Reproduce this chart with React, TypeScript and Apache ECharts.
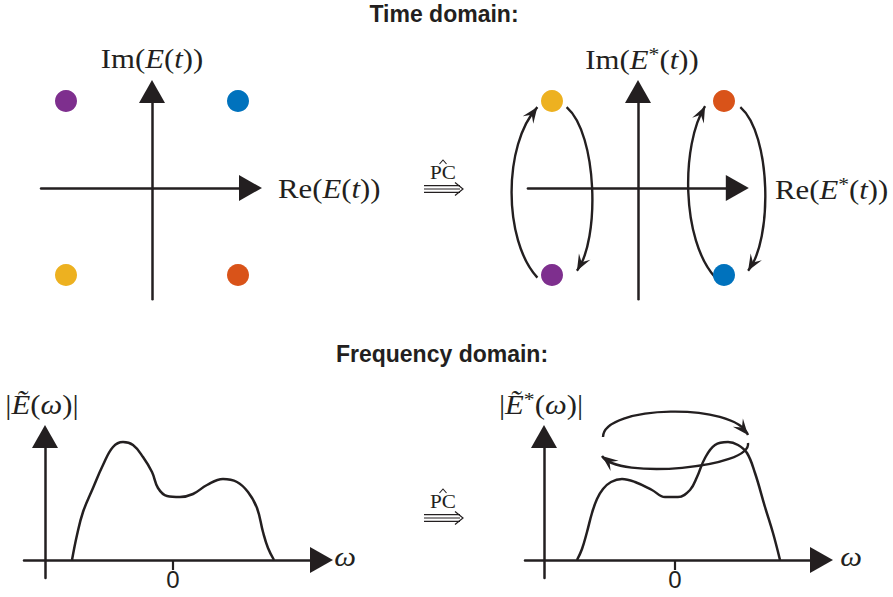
import React, { useEffect, useRef } from 'react';
import * as echarts from 'echarts';

// ---------------- data ----------------
// time-domain constellation points (same order: purple, blue, yellow, orange)
const dotNames = ['purple', 'blue', 'yellow', 'orange'];
const reE = [-1, 1, -1, 1];
const imE = [1, 1, -1, -1];
const reEConj = [-1, 1, -1, 1];
const imEConj = [-1, -1, 1, 1];

// frequency-domain spectra |E(w)| and |E*(w)|
const omegaE = [-1.01, -0.96, -0.9, -0.8, -0.7, -0.6, -0.5, -0.4, -0.3, -0.21, -0.15, -0.06, 0.07, 0.2, 0.34, 0.5, 0.64, 0.75, 0.84, 0.9, 0.95, 1.01];
const magE = [0, 0.25, 0.48, 0.72, 0.95, 1.13, 1.18, 1.15, 1.03, 0.88, 0.72, 0.64, 0.63, 0.66, 0.75, 0.81, 0.78, 0.68, 0.52, 0.28, 0.12, 0];
const omegaEConj = [-0.98, -0.93, -0.88, -0.83, -0.78, -0.72, -0.64, -0.53, -0.4, -0.23, -0.1, 0.03, 0.15, 0.22, 0.3, 0.4, 0.53, 0.63, 0.72, 0.8, 0.9, 0.98, 1.05];
const magEConj = [0, 0.11, 0.28, 0.47, 0.61, 0.71, 0.78, 0.81, 0.78, 0.7, 0.63, 0.63, 0.7, 0.83, 1.02, 1.15, 1.18, 1.15, 1.07, 0.87, 0.53, 0.27, 0];

const zeroTick = [0];

// annotation arcs (cubic Bezier control points, in each panel's data coordinates)
const conjLoopArcs = [
  [-1.17, -1.03, -1.57, -0.6, -1.57, 0.5, -1.17, 0.93],
  [-0.83, 0.93, -0.47, 0.62, -0.44, -0.6, -0.71, -0.95],
  [0.9, -1.03, 0.5, -0.6, 0.5, 0.5, 0.78, 0.94],
  [1.19, 0.93, 1.55, 0.62, 1.57, -0.6, 1.28, -0.95],
];
const spectrumLoopArcs = [
  [-0.72, 1.23, -0.72, 1.55, 0.6, 1.58, 0.73, 1.25],
  [0.73, 1.17, 0.77, 0.92, -0.58, 0.8, -0.73, 1.04],
];

// ---------------- styles / layout ----------------
const INK = '#231f20';
const DOT_COLORS: Record<string, string> = {
  purple: '#7E2F8E',
  blue: '#0072BD',
  yellow: '#EDB120',
  orange: '#D95319',
};
const SERIF = 'Liberation Serif';
const SANS = 'Liberation Sans';

type Panel = { cx: number; cy: number; ux: number; uy: number; xmin: number; xmax: number; ymin: number; ymax: number; yAxisX?: number };
const panels: Panel[] = [
  { cx: 152, cy: 188, ux: 86, uy: 87, xmin: -1.29, xmax: 1.145, ymin: -1.28, ymax: 1.11 },
  { cx: 638, cy: 188, ux: 86, uy: 87, xmin: -1.28, xmax: 1.155, ymin: -1.28, ymax: 1.11 },
  { cx: 173, cy: 560, ux: 100, uy: 100, xmin: -1.49, xmax: 1.485, ymin: -0.18, ymax: 1.235, yAxisX: 45 },
  { cx: 675, cy: 560, ux: 100, uy: 100, xmin: -1.5, xmax: 1.465, ymin: -0.18, ymax: 1.235, yAxisX: 544 },
];

function gridOf(p: Panel) {
  return {
    left: p.cx + p.xmin * p.ux,
    top: p.cy - p.ymax * p.uy,
    width: (p.xmax - p.xmin) * p.ux,
    height: (p.ymax - p.ymin) * p.uy,
    containLabel: false,
    outerBoundsMode: 'none',
  };
}

const axisLineStyle = { color: INK, width: 2.5 };

function xAxisOf(p: Panel, i: number, withZero: boolean) {
  return {
    type: 'value',
    gridIndex: i,
    min: p.xmin,
    max: p.xmax,
    axisLine: { show: true, onZero: true, symbol: ['none', 'triangle'], symbolSize: [26, 23], lineStyle: axisLineStyle },
    axisTick: withZero
      ? { show: true, customValues: zeroTick, length: 10, lineStyle: { color: INK, width: 2.2 } }
      : { show: false },
    axisLabel: withZero
      ? { show: true, customValues: zeroTick, formatter: (v: number) => String(v), color: INK, fontSize: 24, fontFamily: SANS, margin: -11 }
      : { show: false },
    splitLine: { show: false },
  };
}

function yAxisOf(p: Panel, i: number) {
  const g = gridOf(p);
  const offAxis = p.yAxisX !== undefined;
  return {
    type: 'value',
    gridIndex: i,
    min: p.ymin,
    max: p.ymax,
    position: 'left',
    offset: offAxis ? -((p.yAxisX as number) - g.left) : 0,
    axisLine: { show: true, onZero: !offAxis, symbol: ['none', 'triangle'], symbolSize: [26, 23], lineStyle: axisLineStyle },
    axisTick: { show: false },
    axisLabel: { show: false },
    splitLine: { show: false },
  };
}

function dots(re: number[], im: number[]) {
  return re.map((x, k) => ({ value: [x, im[k]], itemStyle: { color: DOT_COLORS[dotNames[k]], opacity: 1 } }));
}

function pairs(xs: number[], ys: number[]) {
  return xs.map((x, k) => [x, ys[k]]);
}

function bez(p: number[][], t: number) {
  const m = 1 - t;
  return [
    m * m * m * p[0][0] + 3 * m * m * t * p[1][0] + 3 * m * t * t * p[2][0] + t * t * t * p[3][0],
    m * m * m * p[0][1] + 3 * m * m * t * p[1][1] + 3 * m * t * t * p[2][1] + t * t * t * p[3][1],
  ];
}

function arrowHead(tip: number[], from: number[], len = 16, wid = 13) {
  const dx = tip[0] - from[0];
  const dy = tip[1] - from[1];
  const d = Math.hypot(dx, dy) || 1;
  const ux = dx / d, uy = dy / d;
  const nx = -uy, ny = ux;
  const bx = tip[0] - ux * len, by = tip[1] - uy * len;
  const notch = [tip[0] - ux * len * 0.6, tip[1] - uy * len * 0.6];
  return [tip, [bx + (nx * wid) / 2, by + (ny * wid) / 2], notch, [bx - (nx * wid) / 2, by - (ny * wid) / 2]];
}

const rich = (size: number) => ({
  r: { fontFamily: SERIF, fontSize: size, fill: INK, lineHeight: size + 4 },
  i: { fontFamily: SERIF, fontSize: size, fontStyle: 'italic', fill: INK, lineHeight: size + 4 },
  s: { fontFamily: SERIF, fontSize: Math.round(size * 0.72), fill: INK, verticalAlign: 'top', lineHeight: size + 4 },
});

function label(x: number, y: number, text: string, align: string, size = 27, sx = 1.14) {
  return {
    type: 'text',
    x,
    y,
    scaleX: sx,
    silent: true,
    style: { text, rich: rich(size), align, textAlign: align, verticalAlign: 'middle', textVerticalAlign: 'middle', fill: INK },
  };
}

function pcArrow(cx: number, cy: number) {
  const els: any[] = [];
  els.push({ type: 'text', x: cx, y: cy, scaleX: 1.18, style: { text: 'PC', fontFamily: SERIF, fontSize: 18, fill: INK, align: 'center', textAlign: 'center', verticalAlign: 'middle', textVerticalAlign: 'middle' } });
  // hat
  els.push({ type: 'polyline', shape: { points: [[cx - 3.5, cy - 9], [cx, cy - 13], [cx + 3.5, cy - 9]] }, style: { stroke: INK, lineWidth: 1.1, fill: null } });
  const ly = cy + 16;
  [-3.4, 0, 3.4].forEach((dy) => {
    els.push({ type: 'line', shape: { x1: cx - 19, y1: ly + dy, x2: cx + 17, y2: ly + dy }, style: { stroke: INK, lineWidth: 1.1 } });
  });
  els.push({ type: 'polyline', shape: { points: [[cx + 12, ly - 6.5], [cx + 20, ly], [cx + 12, ly + 6.5]] }, style: { stroke: INK, lineWidth: 1.2, fill: null } });
  return els;
}

export default function App() {
  const ref = useRef<HTMLDivElement>(null);
  useEffect(() => {
    if (!ref.current) return;
    const chart = echarts.init(ref.current, null, { renderer: 'svg' });
    const curveSeries = (idx: number, data: number[][]) => ({
      type: 'line', xAxisIndex: idx, yAxisIndex: idx, smooth: 0.4, showSymbol: false, symbol: 'none', clip: false,
      lineStyle: { color: INK, width: 2.5 }, data, silent: true,
    });
    const option: any = {
      animation: false,
      backgroundColor: '#ffffff',
      grid: panels.map(gridOf),
      xAxis: panels.map((p, i) => xAxisOf(p, i, i >= 2)),
      yAxis: panels.map((p, i) => yAxisOf(p, i)),
      series: [
        { type: 'scatter', xAxisIndex: 0, yAxisIndex: 0, symbolSize: 22, data: dots(reE, imE), silent: true },
        { type: 'scatter', xAxisIndex: 1, yAxisIndex: 1, symbolSize: 22, data: dots(reEConj, imEConj), silent: true },
        curveSeries(2, pairs(omegaE, magE)),
        curveSeries(3, pairs(omegaEConj, magEConj)),
      ],
    };
    chart.setOption(option);

    const elements: any[] = [];
    const addArcs = (arcs: number[][], gridIndex: number) => {
      arcs.forEach((a) => {
        const pts = [0, 1, 2, 3].map((k) => chart.convertToPixel({ gridIndex } as any, [a[2 * k], a[2 * k + 1]]) as number[]);
        elements.push({
          type: 'bezierCurve',
          silent: true,
          shape: { x1: pts[0][0], y1: pts[0][1], cpx1: pts[1][0], cpy1: pts[1][1], cpx2: pts[2][0], cpy2: pts[2][1], x2: pts[3][0], y2: pts[3][1] },
          style: { stroke: INK, lineWidth: 2.4, fill: null },
        });
        const near = bez(pts, 0.9);
        elements.push({ type: 'polygon', silent: true, shape: { points: arrowHead(pts[3], near) }, style: { fill: INK, stroke: null } });
      });
    };
    addArcs(conjLoopArcs, 1);
    addArcs(spectrumLoopArcs, 3);

    // titles
    elements.push({ type: 'text', x: 444, y: 14, style: { text: 'Time domain:', fontFamily: SANS, fontWeight: 'bold', fontSize: 23, fill: INK, align: 'center', textAlign: 'center', verticalAlign: 'middle', textVerticalAlign: 'middle' } });
    elements.push({ type: 'text', x: 442, y: 354, style: { text: 'Frequency domain:', fontFamily: SANS, fontWeight: 'bold', fontSize: 23, fill: INK, align: 'center', textAlign: 'center', verticalAlign: 'middle', textVerticalAlign: 'middle' } });

    // axis labels
    elements.push(label(152, 59, '{r|Im(}{i|E}{r|(}{i|t}{r|))}', 'center'));
    elements.push(label(642, 60, '{r|Im(}{i|E}{s|*}{r|(}{i|t}{r|))}', 'center'));
    elements.push(label(278, 189, '{r|Re(}{i|E}{r|(}{i|t}{r|))}', 'left'));
    elements.push(label(775, 190, '{r|Re(}{i|E}{s|*}{r|(}{i|t}{r|))}', 'left'));
    elements.push(label(42, 405, '{r||}{i|Ẽ}{r|(}{i|ω}{r|)|}', 'center'));
    elements.push(label(541, 405, '{r||}{i|Ẽ}{s|*}{r|(}{i|ω}{r|)|}', 'center'));
    elements.push(label(345, 557, '{i|ω}', 'center'));
    elements.push(label(851, 557, '{i|ω}', 'center'));

    pcArrow(443, 173).forEach((e) => elements.push(e));
    pcArrow(443, 502).forEach((e) => elements.push(e));

    chart.setOption({ graphic: { elements } });
    return () => chart.dispose();
  }, []);
  return <div ref={ref} style={{ position: 'absolute', left: 0, top: 0, width: 893, height: 597 }} />;
}
